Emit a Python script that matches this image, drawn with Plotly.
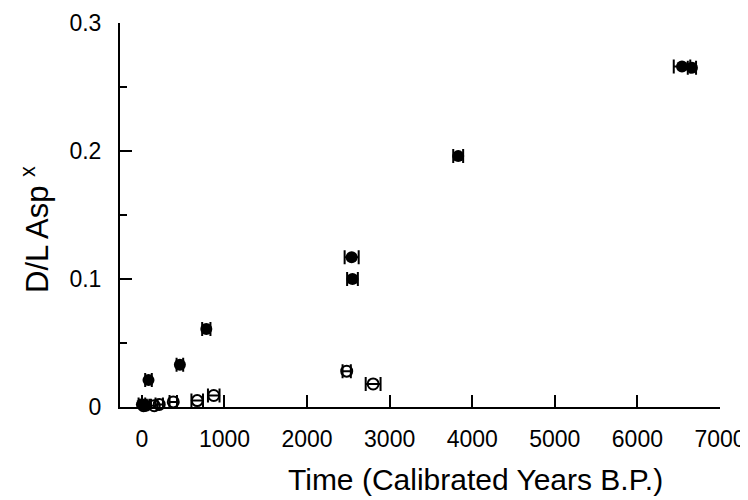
import plotly.graph_objects as go

# Filled circles (D/L Asp)
filled_x = [6540, 6660, 3830, 2540, 2550, 780, 460, 80, 0, 50]
filled_y = [0.266, 0.265, 0.196, 0.117, 0.100, 0.061, 0.033, 0.021, 0.002, 0.001]
filled_err = [100, 50, 60, 85, 65, 50, 40, 40, 40, 40]

# Open circles
open_x = [2480, 2800, 870, 670, 380, 210, 150, 20]
open_y = [0.028, 0.018, 0.009, 0.005, 0.004, 0.002, 0.001, 0.001]
open_err = [50, 90, 70, 70, 45, 45, 40, 40]

x_ticks = [0, 1000, 2000, 3000, 4000, 5000, 6000, 7000]
y_ticks = [0, 0.1, 0.2, 0.3]

FONT = "Liberation Sans, Arial, sans-serif"

fig = go.Figure()
fig.add_trace(go.Scatter(
    x=open_x, y=open_y, mode="markers", cliponaxis=False,
    marker=dict(symbol="circle-open", size=11, color="black", line=dict(width=2, color="black")),
    error_x=dict(type="data", array=open_err, symmetric=True, color="black", thickness=2, width=7),
    showlegend=False,
))
fig.add_trace(go.Scatter(
    x=filled_x, y=filled_y, mode="markers", cliponaxis=False,
    marker=dict(symbol="circle", size=12, color="black"),
    error_x=dict(type="data", array=filled_err, symmetric=True, color="black", thickness=2, width=7),
    showlegend=False,
))

# page body has an 8px default margin, so the figure is sized to fit inside it
fig.update_layout(
    width=740, height=492,
    margin=dict(l=112, r=28, t=15, b=93),
    paper_bgcolor="white", plot_bgcolor="white",
    font=dict(family=FONT, size=23, color="black"),
    xaxis=dict(
        range=[-265, 7000], tickvals=x_ticks, ticktext=[str(v) for v in x_ticks],
        showline=True, linecolor="black", linewidth=2,
        ticks="inside", ticklen=12, tickwidth=2, tickcolor="black",
        showgrid=False, zeroline=False, ticklabelstandoff=10,
        tickfont=dict(size=23), automargin=False,
    ),
    yaxis=dict(
        range=[0, 0.3], tickvals=y_ticks, ticktext=["0", "0.1", "0.2", "0.3"],
        showline=True, linecolor="black", linewidth=2,
        ticks="inside", ticklen=12, tickwidth=2, tickcolor="black",
        minor=dict(ticks="inside", ticklen=7, tickwidth=2, tickcolor="black", dtick=0.05, tick0=0, showgrid=False),
        showgrid=False, zeroline=False, ticklabelstandoff=12,
        tickfont=dict(size=23), automargin=False,
    ),
    annotations=[
        dict(
            text="Time (Calibrated Years B.P.)", xref="paper", yref="paper",
            x=0.593, y=-0.19, xanchor="center", yanchor="middle", showarrow=False,
            font=dict(size=30, family=FONT),
        ),
        dict(
            text="D/L Asp <sup>x</sup>", xref="paper", yref="paper", textangle=-90,
            x=-0.142, y=0.463, xanchor="center", yanchor="middle", showarrow=False,
            font=dict(size=31, family=FONT),
        ),
    ],
)

fig.write_html("out.html")
